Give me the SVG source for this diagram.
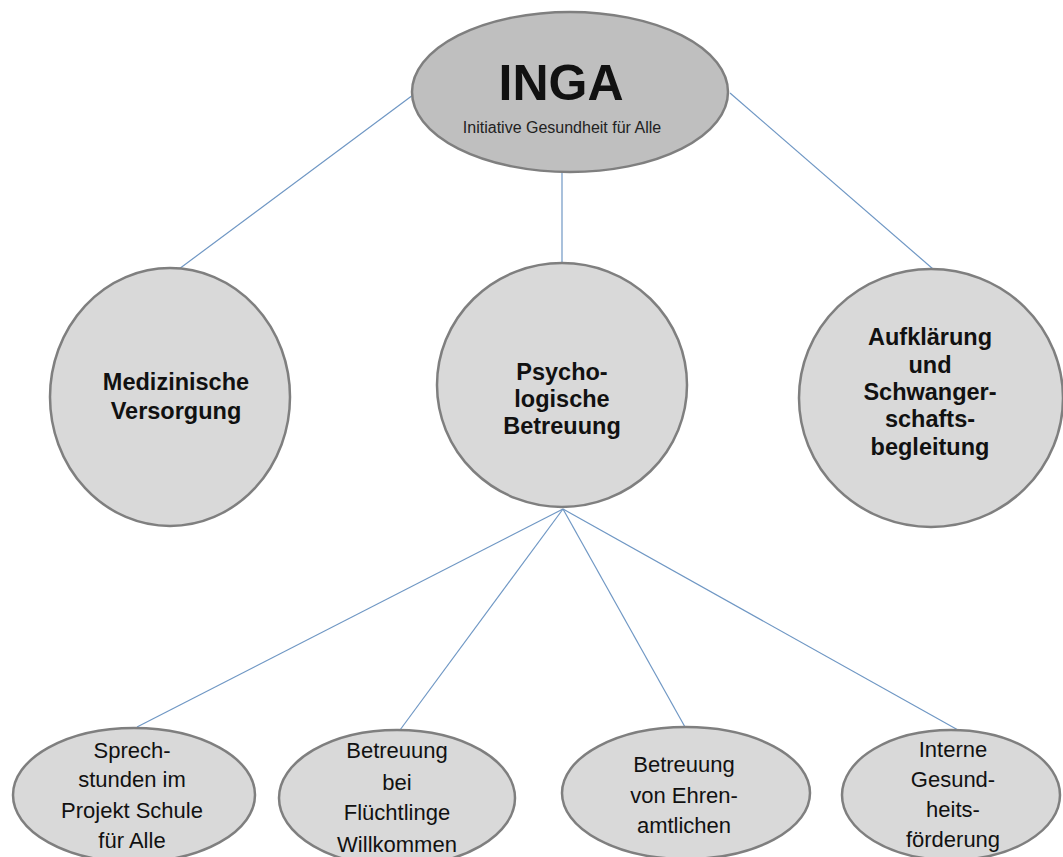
<svg xmlns="http://www.w3.org/2000/svg" width="1063" height="857" viewBox="0 0 1063 857">
<style>
.node{fill:#d9d9d9;stroke:#7f7f7f;stroke-width:2.5}
.root{fill:#bfbfbf;stroke:#7f7f7f;stroke-width:2.5}
.b{font-family:"Liberation Sans",Arial,sans-serif;font-weight:bold;font-size:23.5px;fill:#111;text-anchor:middle}
.r{font-family:"Liberation Sans",Arial,sans-serif;font-size:22px;fill:#111;text-anchor:middle}
.edge{stroke:#6f97c4;stroke-width:1.2;fill:none}
</style>
<rect width="1063" height="857" fill="#fff"/>
<g id="connectors">
<line class="edge" x1="413" y1="95" x2="179" y2="269"/>
<line class="edge" x1="562" y1="172" x2="562" y2="263"/>
<line class="edge" x1="730" y1="93" x2="933" y2="269"/>
<line class="edge" x1="563" y1="509" x2="137" y2="727"/>
<line class="edge" x1="563" y1="509" x2="400" y2="730"/>
<line class="edge" x1="563" y1="509" x2="685" y2="727"/>
<line class="edge" x1="563" y1="509" x2="958" y2="730"/>
</g>
<g id="inga">
<ellipse class="root" cx="570" cy="92" rx="158" ry="80"/>
<text x="561" y="100" font-family="Liberation Sans,Arial,sans-serif" font-weight="bold" font-size="50" text-anchor="middle" fill="#111">INGA</text>
<text x="562" y="133" font-family="Liberation Sans,Arial,sans-serif" font-size="16" text-anchor="middle" fill="#222">Initiative Gesundheit für Alle</text>
</g>
<g id="medizinische">
<ellipse class="node" cx="170" cy="397" rx="120" ry="129"/>
<text class="b" x="176" y="390">Medizinische</text>
<text class="b" x="176" y="419">Versorgung</text>
</g>
<g id="psycho">
<ellipse class="node" cx="562" cy="385" rx="125" ry="122"/>
<text class="b" x="562" y="380">Psycho-</text>
<text class="b" x="562" y="407">logische</text>
<text class="b" x="562" y="434">Betreuung</text>
</g>
<g id="aufklaerung">
<ellipse class="node" cx="931" cy="398" rx="132" ry="129"/>
<text class="b" x="930" y="345">Aufklärung</text>
<text class="b" x="930" y="373">und</text>
<text class="b" x="930" y="400">Schwanger-</text>
<text class="b" x="930" y="427">schafts-</text>
<text class="b" x="930" y="455">begleitung</text>
</g>
<g id="sprechstunden">
<ellipse class="node" cx="134" cy="795" rx="121" ry="67"/>
<text class="r" x="132" y="758">Sprech-</text>
<text class="r" x="132" y="787">stunden im</text>
<text class="r" x="132" y="818">Projekt Schule</text>
<text class="r" x="132" y="848">für Alle</text>
</g>
<g id="fluechtlinge">
<ellipse class="node" cx="397" cy="798" rx="118" ry="68"/>
<text class="r" x="397" y="758">Betreuung</text>
<text class="r" x="397" y="790">bei</text>
<text class="r" x="397" y="820">Flüchtlinge</text>
<text class="r" x="397" y="852">Willkommen</text>
</g>
<g id="ehrenamtlichen">
<ellipse class="node" cx="686" cy="793" rx="124" ry="66"/>
<text class="r" x="684" y="772">Betreuung</text>
<text class="r" x="684" y="803">von Ehren-</text>
<text class="r" x="684" y="833">amtlichen</text>
</g>
<g id="gesundheitsfoerderung">
<ellipse class="node" cx="951" cy="795" rx="109" ry="65"/>
<text class="r" x="953" y="757">Interne</text>
<text class="r" x="953" y="787">Gesund-</text>
<text class="r" x="953" y="817">heits-</text>
<text class="r" x="953" y="847">förderung</text>
</g>
</svg>
